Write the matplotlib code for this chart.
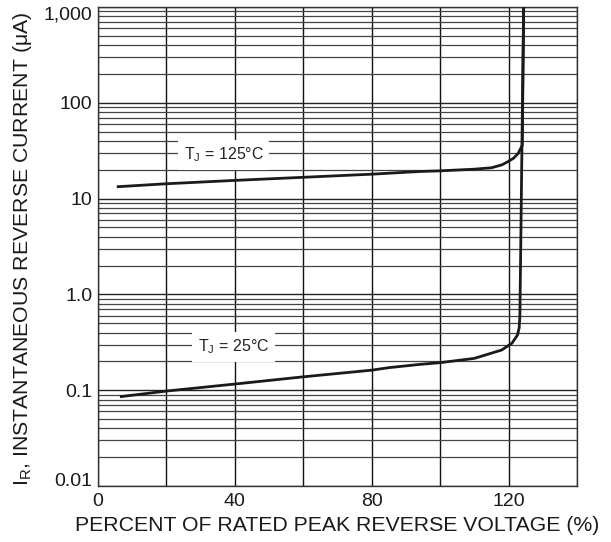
import matplotlib.pyplot as plt
import matplotlib.transforms as mtransforms
from matplotlib.ticker import FixedLocator, LogLocator, NullFormatter

plt.rcParams['font.family'] = ['Liberation Sans', 'DejaVu Sans']

# percent of rated peak reverse voltage
v_125 = [5.5, 20, 40, 60, 80, 94, 100, 110, 115, 118, 119.8, 121.5, 122.8, 124.0, 124.4]
i_125 = [13.3, 14.3, 15.5, 16.7, 18.0, 19.2, 19.5, 20.3, 21.0, 22.5, 24.3, 26.5, 29.7, 36.0, 1000]

v_25 = [6.4, 20, 40, 60, 80, 85, 94, 100, 110, 118, 121, 122.6, 123.1, 123.3, 124.4]
i_25 = [0.0855, 0.098, 0.116, 0.138, 0.162, 0.172, 0.186, 0.194, 0.215, 0.263, 0.31, 0.377, 0.45, 0.6, 1000]

x_ticks = [0, 40, 80, 120]
y_ticks = [0.01, 0.1, 1.0, 10, 100, 1000]
y_labels = ['0.01', '0.1', '1.0', '10', '100', '1,000']

fig = plt.figure(figsize=(6.11, 5.42), dpi=100)
ax = fig.add_axes([0.1604, 0.1033, 0.7840, 0.8837])

ax.set_yscale('log')
ax.set_xlim(0, 140)
ax.set_ylim(0.01, 1000)

ax.plot(v_125, i_125, color='#1a1a1a', lw=2.0, solid_capstyle='butt', zorder=3)
ax.plot(v_25, i_25, color='#1a1a1a', lw=2.0, solid_capstyle='butt', zorder=3)

# grid
ax.xaxis.set_major_locator(FixedLocator(x_ticks))
ax.xaxis.set_minor_locator(FixedLocator(range(0, 141, 20)))
ax.yaxis.set_major_locator(FixedLocator(y_ticks))
ax.yaxis.set_minor_locator(LogLocator(base=10, subs=range(2, 10)))
ax.yaxis.set_minor_formatter(NullFormatter())
ax.set_xticklabels([str(t) for t in x_ticks])
ax.set_yticklabels(y_labels)

ax.grid(which='major', axis='y', color='#222222', lw=1.0)
ax.grid(which='minor', axis='y', color='#444444', lw=0.9)
ax.grid(which='both', axis='x', color='#111111', lw=1.0)
ax.tick_params(which='both', length=0, labelsize=14, colors='#1a1a1a')
ax.tick_params(axis='x', pad=5)
ax.tick_params(axis='y', pad=4)

# nudge end labels inward like the original sheet
ylabs = ax.get_yticklabels()
ylabs[0].set_transform(ylabs[0].get_transform() +
                       mtransforms.ScaledTranslation(0, 5 / 72, fig.dpi_scale_trans))
ylabs[-1].set_transform(ylabs[-1].get_transform() +
                        mtransforms.ScaledTranslation(0, -4 / 72, fig.dpi_scale_trans))

for s in ax.spines.values():
    s.set_color('#333333')
    s.set_linewidth(1.0)

box = dict(facecolor='white', edgecolor='none', pad=4)
ax.text(36.7, 28.5, 'T$_\\mathregular{J}$ = 125°C', fontsize=11.5, ha='center', va='center',
        color='#222222', bbox=box, zorder=4)
ax.text(39.6, 0.282, 'T$_\\mathregular{J}$ = 25°C', fontsize=11.5, ha='center', va='center',
        color='#222222', bbox=box, zorder=4)

ax.set_xlabel('PERCENT OF RATED PEAK REVERSE VOLTAGE (%)', fontsize=15.3, color='#1a1a1a')
ax.set_ylabel('I$_\\mathregular{R}$, INSTANTANEOUS REVERSE CURRENT (μA)', fontsize=15.3,
              color='#1a1a1a')
ax.xaxis.set_label_coords(0.5, -0.063)
ax.yaxis.set_label_coords(-0.134, 0.495)

fig.savefig('out.png', dpi=100)
